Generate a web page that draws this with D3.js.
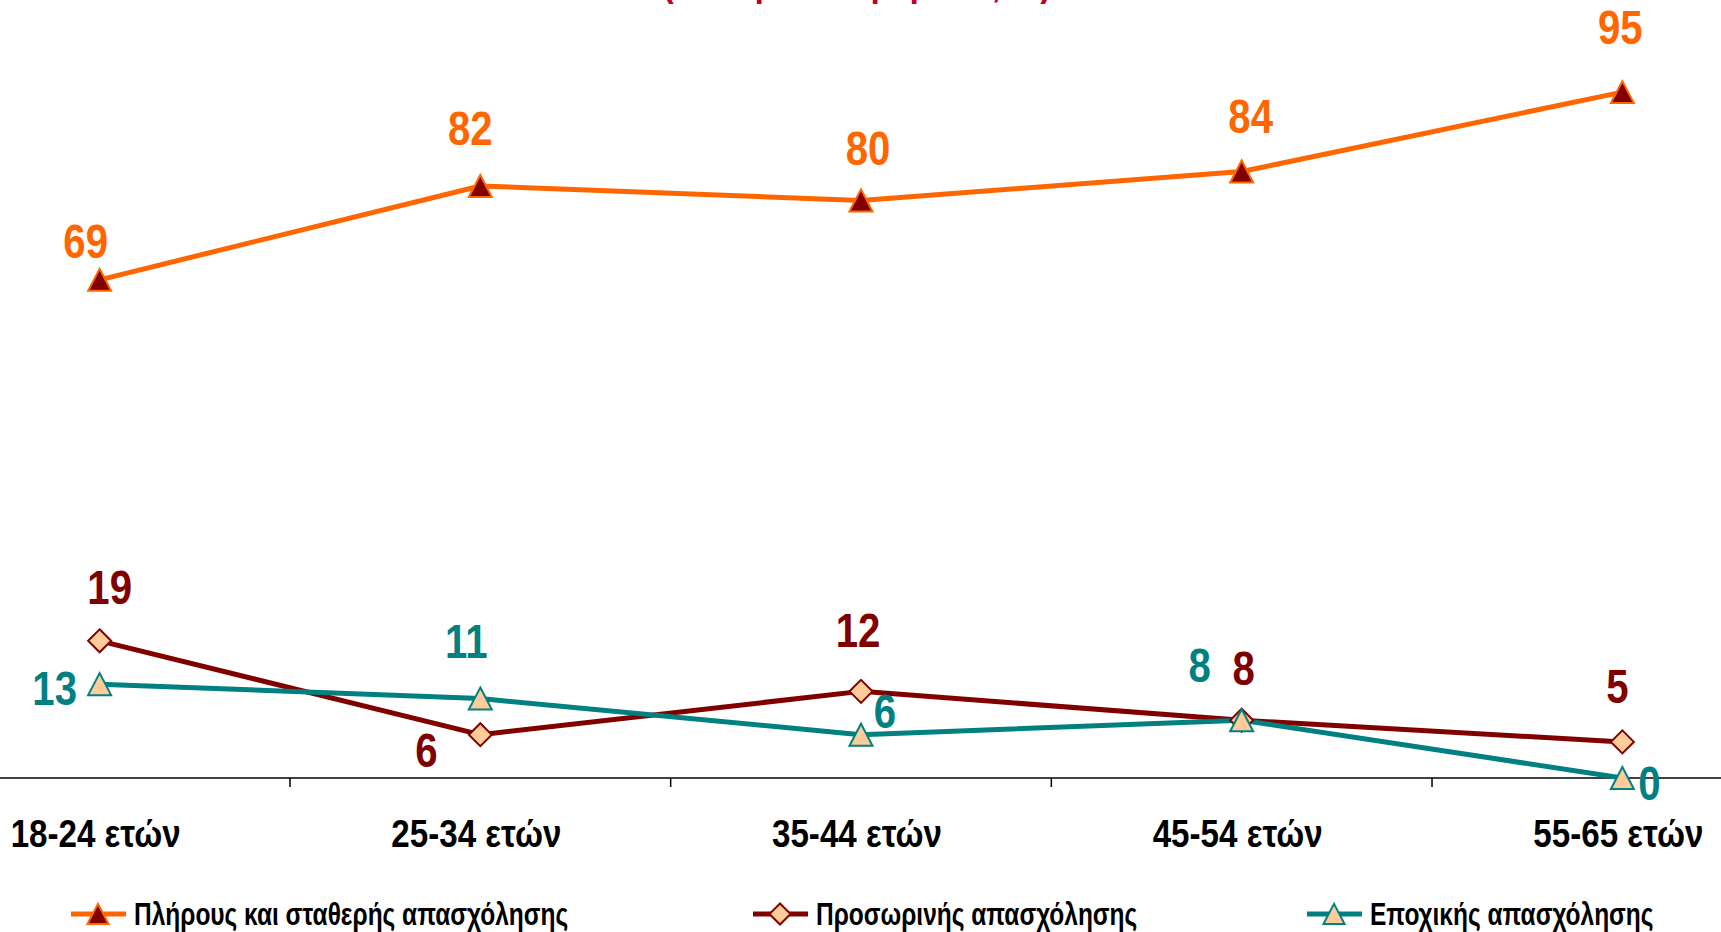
<!DOCTYPE html>
<html><head><meta charset="utf-8">
<script src="https://cdn.jsdelivr.net/npm/d3@7"></script>
<style>
html,body{margin:0;padding:0;background:#fff;overflow:hidden;}
svg{display:block;}
text{font-family:"Liberation Sans",Arial,sans-serif;font-weight:bold;}
</style></head>
<body>
<svg id="chart" width="1721" height="932"></svg>
<script>
// ---- data ----
const categories = ["18-24 ετών", "25-34 ετών", "35-44 ετών", "45-54 ετών", "55-65 ετών"];
const seriesNames = ["Πλήρους και σταθερής απασχόλησης", "Προσωρινής απασχόλησης", "Εποχικής απασχόλησης"];
const fullTime  = [69, 82, 80, 84, 95];
const temporary = [19, 6, 12, 8, 5];
const seasonal  = [13, 11, 6, 8, 0];
const titleText = "(ανά ηλικιακή ομάδα, %)";

// ---- styles (label offsets in px relative to the point) ----
const styles = [
  {values: fullTime, line: "#FF6600", mFill: "#800000", mStroke: "#FF6600", shape: "tri", label: "#FF6600",
   dx: [-14, -10, 7, 9, -2], dy: [-22, -41, -35, -39, -48]},
  {values: temporary, line: "#800000", mFill: "#FFCC99", mStroke: "#800000", shape: "dia", label: "#800000",
   dx: [10, -54, -3, 2, -5], dy: [-37, 32, -44, -35, -39]},
  {values: seasonal, line: "#008080", mFill: "#FFCC99", mStroke: "#008080", shape: "tri", label: "#008080",
   dx: [-45, -14, 24, -42, 27], dy: [21, -41, -7, -38, 22]}
];

const svg = d3.select("#chart");
const W = 1721;

const x = d3.scaleBand().domain(categories).range([-90.7, 1812.7]).padding(0);
const y = d3.scaleLinear().domain([0, 100]).range([778, 56]);
const cx = c => x(c) + x.bandwidth() / 2;

// narrow text: horizontally compressed bold face (Arial Narrow look)
function ntext(parent, px, py, f, size, anchor, fill, str) {
  return parent.append("text")
    .attr("transform", `translate(${px},${py}) scale(${f},1)`)
    .attr("text-anchor", anchor).attr("font-size", size).attr("fill", fill).text(str);
}
function marker(g, s, k) {
  let p;
  if (s.shape === "tri") {
    const w = 23 * k, h = 22 * k;
    p = `M0,${-h / 2}L${w / 2},${h / 2}L${-w / 2},${h / 2}Z`;
  } else {
    const r = 11.5 * k;
    p = `M0,${-r}L${r},0L0,${r}L${-r},0Z`;
  }
  g.append("path").attr("d", p).attr("fill", s.mFill).attr("stroke", s.mStroke)
    .attr("stroke-width", 2).attr("stroke-linejoin", "miter");
}

// title (clipped at top, as in the source image)
ntext(svg, 857, -4, 0.82, 41, "middle", "#C0002A", titleText);

// x axis
const axisG = svg.append("g").attr("transform", `translate(0,${y(0)})`);
axisG.append("line").attr("x1", 0).attr("x2", W).attr("stroke", "#000").attr("stroke-width", 1.5);
const bounds = categories.slice(1).map(c => x(c));
axisG.selectAll("line.tick").data(bounds).join("line").attr("class", "tick")
  .attr("x1", d => d).attr("x2", d => d).attr("y1", 0).attr("y2", 9)
  .attr("stroke", "#000").attr("stroke-width", 1.5);
categories.forEach(c => ntext(axisG, cx(c) - 4, 69, 0.85, 39, "middle", "#000", c));

// series
const lineGen = d3.line().x((d, i) => cx(categories[i])).y(d => y(d));
styles.forEach(s => {
  svg.append("path").datum(s.values).attr("d", lineGen)
    .attr("fill", "none").attr("stroke", s.line).attr("stroke-width", 5).attr("stroke-linejoin", "round");
});
styles.forEach(s => {
  s.values.forEach((v, i) => {
    const g = svg.append("g").attr("transform", `translate(${cx(categories[i])},${y(v)})`);
    marker(g, s, 1);
  });
});
styles.forEach(s => {
  const g = svg.append("g");
  s.values.forEach((v, i) => {
    ntext(g, cx(categories[i]) + s.dx[i], y(v) + s.dy[i], 0.82, 49, "middle", s.label, v);
  });
});

// legend
const legendX = [71, 753, 1307];
const lg = svg.append("g").attr("transform", "translate(0,914)");
styles.forEach((s, i) => {
  const g = lg.append("g").attr("transform", `translate(${legendX[i]},0)`);
  g.append("line").attr("x1", 0).attr("x2", 55).attr("stroke", s.line).attr("stroke-width", 5);
  const mg = g.append("g").attr("transform", "translate(27,0)");
  marker(mg, s, 0.92);
  ntext(g, 63, 11, 0.79, 31, "start", "#000", seriesNames[i]);
});
</script>
</body></html>
